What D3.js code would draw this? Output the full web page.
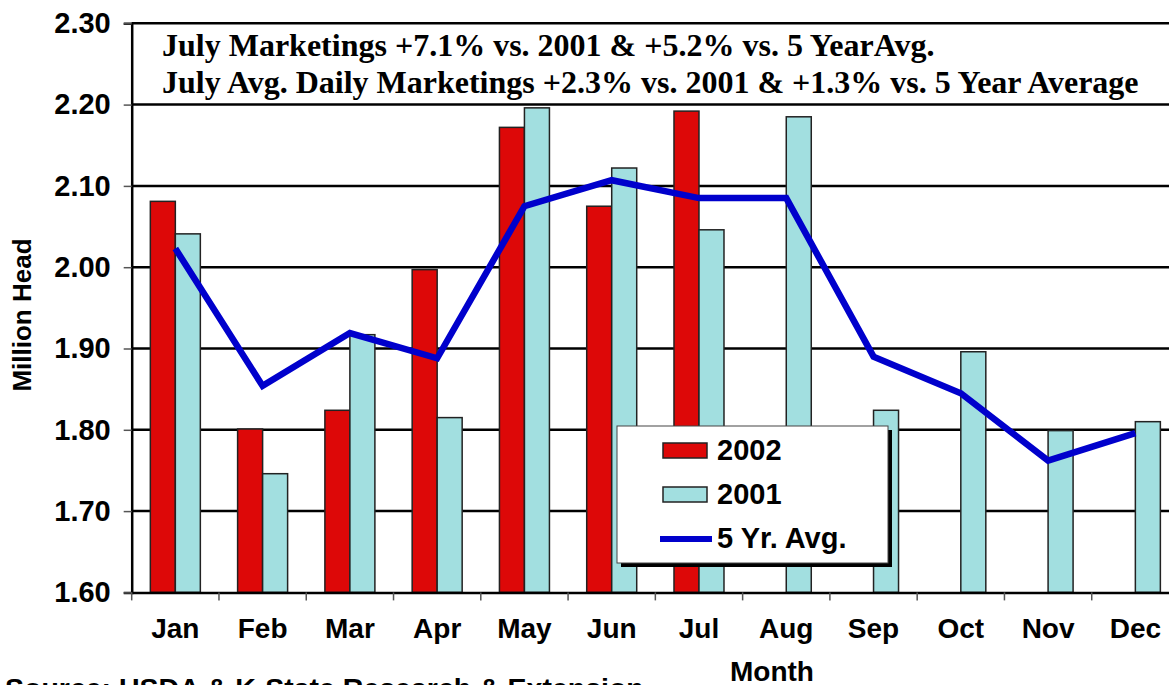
<!DOCTYPE html>
<meta charset="utf-8">
<style>
body { margin: 0; background: #fff; }
text { font-family: "Liberation Sans", Arial, sans-serif; font-weight: bold; fill: #000; }
.title text { font-family: "Liberation Serif", "Times New Roman", serif; font-size: 32px; }
.grid line { stroke: #000; stroke-width: 2.5px; }
.bar { stroke: #222; stroke-width: 1.5px; }
.avg { fill: none; stroke: #0000cc; stroke-width: 6.5px; stroke-linejoin: miter; }
</style>
<svg width="1169" height="685"></svg>
<script src="https://d3js.org/d3.v7.min.js"></script>
<script>

var months = ["Jan", "Feb", "Mar", "Apr", "May", "Jun", "Jul", "Aug", "Sep", "Oct", "Nov", "Dec"];
var y2002 = [2.081, 1.801, 1.824, 1.997, 2.172, 2.075, 2.192, null, null, null, null, null];
var y2001 = [2.041, 1.746, 1.917, 1.815, 2.196, 2.122, 2.046, 2.185, 1.824, 1.896, 1.799, 1.810];
var avg5 = [2.023, 1.854, 1.919, 1.888, 2.075, 2.107, 2.085, 2.085, 1.890, 1.845, 1.762, 1.796];
var yTicks = [1.6, 1.7, 1.8, 1.9, 2.0, 2.1, 2.2, 2.3];
var titleLines = [
  "July Marketings +7.1% vs. 2001 & +5.2% vs. 5 YearAvg.",
  "July Avg. Daily Marketings +2.3% vs. 2001 & +1.3% vs. 5 Year Average"
];

var svg = d3.select("svg");
var plotLeft = 131.7, plotRight = 1179, plotTop = 23.3, plotBottom = 592.4;

var x = d3.scaleBand().domain(months).range([plotLeft, plotRight]);
var y = d3.scaleLinear().domain([1.6, 2.3]).range([plotBottom, plotTop]);
var barW = 25;

// grid lines
svg.append("g").attr("class", "grid")
  .selectAll("line").data(yTicks.slice(1)).join("line")
    .attr("x1", plotLeft).attr("x2", 1169)
    .attr("y1", function(d) { return y(d); })
    .attr("y2", function(d) { return y(d); });

// title
svg.append("g").attr("class", "title")
  .selectAll("text").data(titleLines).join("text")
    .attr("x", 162)
    .attr("y", function(d, i) { return 56 + i * 37; })
    .text(function(d) { return d; });

// bars
var g = svg.append("g");
g.selectAll(".b2002").data(months.filter(function(d, i) { return y2002[i] != null; })).join("rect")
    .attr("class", "bar")
    .attr("fill", "#dd0808")
    .attr("x", function(d) { return x(d) + x.bandwidth() / 2 - barW; })
    .attr("width", barW)
    .attr("y", function(d, i) { return y(y2002[i]); })
    .attr("height", function(d, i) { return plotBottom - y(y2002[i]); });

g.selectAll(".b2001").data(months).join("rect")
    .attr("class", "bar")
    .attr("fill", "#a2dfe0")
    .attr("x", function(d) { return x(d) + x.bandwidth() / 2; })
    .attr("width", barW)
    .attr("y", function(d, i) { return y(y2001[i]); })
    .attr("height", function(d, i) { return plotBottom - y(y2001[i]); });

// 5 year average
var line = d3.line()
    .x(function(d, i) { return x(months[i]) + x.bandwidth() / 2; })
    .y(function(d) { return y(d); });
svg.append("path").attr("class", "avg").attr("d", line(avg5));

// y axis
var yAxis = svg.append("g")
    .attr("transform", "translate(" + plotLeft + ",0)")
    .call(d3.axisLeft(y).tickValues(yTicks).tickFormat(d3.format(".2f")).tickSize(8).tickPadding(13));
yAxis.select(".domain").attr("stroke", "#000").attr("stroke-width", 2.5);
yAxis.selectAll(".tick line").attr("stroke", "#555").attr("stroke-width", 1.5);
yAxis.selectAll(".tick text").style("font-size", "29px").attr("font-family", null);

// x axis
var xAxis = svg.append("g")
    .attr("transform", "translate(0," + plotBottom + ")")
    .call(d3.axisBottom(x).tickSize(0).tickPadding(26));
xAxis.select(".domain").attr("stroke", "#000").attr("stroke-width", 2.5);
xAxis.selectAll(".tick text").style("font-size", "28px").attr("font-family", null);
xAxis.selectAll(".sep").data(months).join("line")
    .attr("x1", function(d) { return x(d); })
    .attr("x2", function(d) { return x(d); })
    .attr("y1", 0).attr("y2", 8)
    .attr("stroke", "#555").attr("stroke-width", 1.5);

// axis titles
svg.append("text")
    .attr("transform", "translate(31,315) rotate(-90)")
    .attr("text-anchor", "middle")
    .style("font-size", "26px")
    .text("Million Head");

svg.append("text")
    .attr("x", 772).attr("y", 681)
    .attr("text-anchor", "middle")
    .style("font-size", "28px")
    .text("Month");

svg.append("text")
    .attr("x", 5).attr("y", 698)
    .style("font-size", "28.5px")
    .text("Source:  USDA & K-State Research & Extension");

// legend
var legend = svg.append("g").attr("transform", "translate(617,426)");
legend.append("rect").attr("x", 4).attr("y", 4).attr("width", 271).attr("height", 137).attr("fill", "#000");
legend.append("rect").attr("width", 271).attr("height", 137).attr("fill", "#fff").attr("stroke", "#444").attr("stroke-width", 1);

var items = [
  { label: "2002", color: "#dd0808", type: "rect" },
  { label: "2001", color: "#a2dfe0", type: "rect" },
  { label: "5 Yr. Avg.", color: "#0000cc", type: "line" }
];
items.forEach(function(d, i) {
  var cy = 24 + i * 44;
  if (d.type === "rect") {
    legend.append("rect").attr("class", "bar").attr("x", 46).attr("y", cy - 7)
      .attr("width", 44).attr("height", 15).attr("fill", d.color);
  } else {
    legend.append("line").attr("x1", 43).attr("x2", 95).attr("y1", cy + 1).attr("y2", cy + 1)
      .attr("stroke", d.color).attr("stroke-width", 6);
  }
  legend.append("text").attr("x", 100).attr("y", cy + 10).style("font-size", "29px").text(d.label);
});

</script>
